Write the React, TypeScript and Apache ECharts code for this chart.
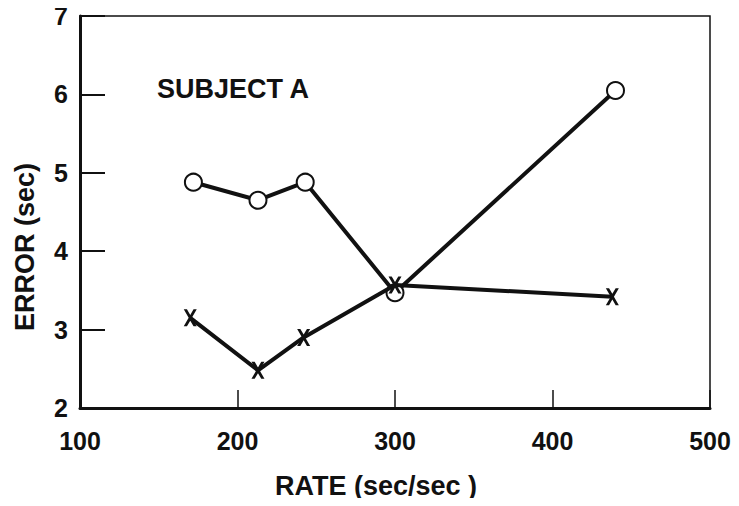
import React, { useEffect, useRef } from "react";
import * as echarts from "echarts";

const xTicks = [100, 200, 300, 400, 500];
const yTicks = [2, 3, 4, 5, 6, 7];
const circleRates = [172, 213, 243, 300, 440];
const circleErrors = [4.88, 4.65, 4.88, 3.47, 6.05];
const crossRates = [170, 213, 242, 300, 438];
const crossErrors = [3.15, 2.48, 2.9, 3.57, 3.42];
const subjectLabel = "SUBJECT A";
const xName = "RATE (sec/sec )";
const yName = "ERROR (sec)";

const FONT = "Liberation Sans";
const X_SYMBOL =
  "path://M0,0 L3.2,0 L6.5,5.6 L9.8,0 L13,0 L8.1,8.5 L13,17 L9.8,17 L6.5,11.4 L3.2,17 L0,17 L4.9,8.5 Z";

const nameStyle = {
  fontFamily: FONT,
  fontWeight: "bold",
  fontSize: 27,
  fill: "#111",
  align: "center",
  verticalAlign: "middle",
};

export default function App() {
  const ref = useRef<HTMLDivElement>(null);
  useEffect(() => {
    if (!ref.current) return;
    const chart = echarts.init(ref.current, null, { renderer: "svg" });
    chart.setOption({
      animation: false,
      backgroundColor: "#fff",
      grid: {
        left: 80,
        right: 29,
        top: 16,
        bottom: 98,
        show: true,
        borderColor: "#111",
        borderWidth: 1.5,
      },
      xAxis: {
        type: "value",
        min: 100,
        max: 500,
        interval: 100,
        axisLine: { show: true, lineStyle: { color: "#111", width: 3 } },
        axisTick: { show: true, inside: true, length: 18, lineStyle: { color: "#111", width: 1.5 } },
        axisLabel: {
          margin: 20,
          fontFamily: FONT,
          fontWeight: "bold",
          fontSize: 25,
          color: "#111",
          formatter: (v: number) => (xTicks.includes(v) ? String(v) : ""),
        },
        splitLine: { show: false },
      },
      yAxis: {
        type: "value",
        min: 2,
        max: 7,
        interval: 1,
        axisLine: { show: true, lineStyle: { color: "#111", width: 3 } },
        axisTick: { show: true, inside: true, length: 25, lineStyle: { color: "#111", width: 2 } },
        axisLabel: {
          margin: 12,
          fontFamily: FONT,
          fontWeight: "bold",
          fontSize: 25,
          color: "#111",
          formatter: (v: number) => (yTicks.includes(v) ? String(v) : ""),
        },
        splitLine: { show: false },
      },
      graphic: [
        {
          type: "text",
          x: 157,
          y: 89,
          style: { ...nameStyle, text: subjectLabel, align: "left" },
        },
        {
          type: "text",
          x: 376,
          y: 486,
          style: { ...nameStyle, text: xName },
        },
        {
          type: "text",
          x: 25,
          y: 247,
          rotation: Math.PI / 2,
          style: { ...nameStyle, text: yName },
        },
      ],
      series: [
        {
          type: "line",
          name: "circles",
          data: circleRates.map((r, i) => [r, circleErrors[i]]),
          symbol: "circle",
          symbolSize: 17,
          showAllSymbol: true,
          lineStyle: { color: "#111", width: 4 },
          itemStyle: { color: "#fff", borderColor: "#111", borderWidth: 2 },
          z: 3,
        },
        {
          type: "line",
          name: "crosses",
          data: crossRates.map((r, i) => [r, crossErrors[i]]),
          symbol: X_SYMBOL,
          symbolSize: [13, 17],
          showAllSymbol: true,
          lineStyle: { color: "#111", width: 4 },
          itemStyle: { color: "#111", borderWidth: 0 },
          z: 4,
        },
      ],
    });
    return () => chart.dispose();
  }, []);
  return <div ref={ref} style={{ width: 739, height: 506, margin: -8 }} />;
}
